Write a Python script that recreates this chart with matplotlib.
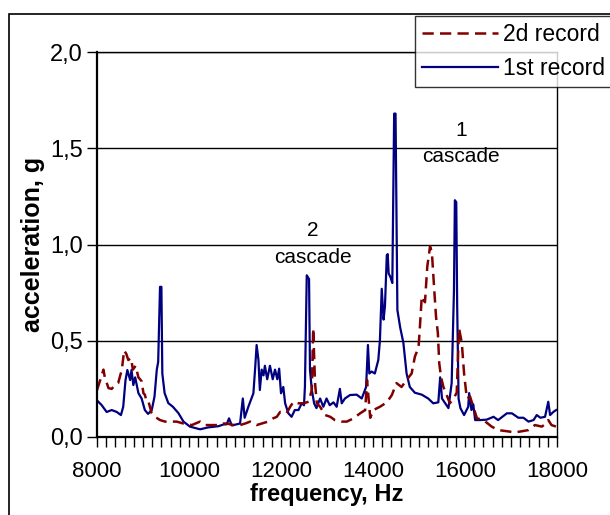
import matplotlib
matplotlib.use("Agg")
import matplotlib.pyplot as plt
import numpy as np
from matplotlib.patches import Rectangle
from matplotlib.ticker import MultipleLocator, FuncFormatter

plt.rcParams['font.family'] = ['Liberation Sans', 'DejaVu Sans']

# 1st record (solid, navy)
f1 = [8000, 8100, 8210, 8320, 8430, 8520, 8570, 8620, 8660, 8720, 8750, 8790, 8830,
      8900, 8970, 9040, 9110, 9190, 9250, 9300, 9330, 9370, 9400, 9420, 9470, 9550,
      9650, 9770, 9880, 10020, 10240, 10420, 10640, 10750, 10820, 10870, 10930,
      11110, 11170, 11210, 11290, 11400, 11440, 11470, 11510, 11540, 11580, 11620,
      11650, 11700, 11760, 11820, 11870, 11920, 11960, 12000, 12050, 12090, 12160,
      12230, 12300, 12380, 12450, 12500, 12520, 12560, 12610, 12630, 12670, 12720,
      12770, 12850, 12920, 12990, 13060, 13140, 13210, 13280, 13320, 13390, 13500,
      13645, 13755, 13850, 13890, 13920, 13970, 14040, 14115, 14150, 14190, 14230,
      14260, 14300, 14320, 14340, 14380, 14420, 14460, 14490, 14530, 14590, 14660,
      14730, 14800, 14910, 15060, 15200, 15310, 15420, 15460, 15500, 15570, 15640,
      15710, 15760, 15780, 15810, 15830, 15860, 15900, 15980, 16070, 16090, 16140,
      16180, 16220, 16330, 16470, 16620, 16720, 16910, 17020, 17160, 17270, 17380,
      17490, 17560, 17640, 17740, 17810, 17850, 17920, 17980]
a1 = [0.19, 0.166, 0.13, 0.14, 0.13, 0.114, 0.157, 0.296, 0.348, 0.296, 0.348, 0.27, 0.31,
      0.228, 0.2, 0.14, 0.12, 0.14, 0.21, 0.35, 0.39, 0.78, 0.78, 0.33, 0.228, 0.176,
      0.157, 0.124, 0.08, 0.054, 0.04, 0.05, 0.056, 0.065, 0.066, 0.097, 0.06,
      0.07, 0.2, 0.1, 0.157, 0.227, 0.365, 0.478, 0.4, 0.244, 0.35, 0.32,
      0.37, 0.30, 0.37, 0.30, 0.35, 0.30, 0.355, 0.227, 0.26, 0.175, 0.123,
      0.105, 0.14, 0.14, 0.175, 0.165, 0.26, 0.84, 0.82, 0.348, 0.245, 0.175,
      0.15, 0.2, 0.157, 0.2, 0.165, 0.18, 0.157, 0.25, 0.175, 0.2, 0.218,
      0.22, 0.2, 0.26, 0.478, 0.33, 0.34, 0.33, 0.4, 0.5, 0.77, 0.61,
      0.68, 0.945, 0.95, 0.85, 0.83, 0.8, 1.68, 1.68, 0.66, 0.57, 0.49,
      0.33, 0.26, 0.23, 0.22, 0.2, 0.175, 0.18, 0.31, 0.2, 0.175, 0.15,
      0.28, 0.76, 1.23, 1.22, 0.68, 0.2, 0.15, 0.114, 0.157, 0.228, 0.14,
      0.17, 0.088, 0.088, 0.09, 0.105, 0.088, 0.123, 0.123, 0.1, 0.1, 0.08,
      0.088, 0.114, 0.1, 0.105, 0.183, 0.114, 0.13, 0.14]

# 2d record (dashed, dark red)
f2 = [8000, 8070, 8140, 8170, 8250, 8320, 8390, 8460, 8540, 8590, 8640, 8680, 8740,
      8780, 8840, 8900, 8970, 9010, 9040, 9080, 9120, 9190, 9260, 9370, 9480, 9590,
      9730, 9880, 10060, 10240, 10350, 10490, 10640, 10750, 10820, 10970, 11110,
      11220, 11330, 11470, 11580, 11720, 11830, 11910, 11980, 12120, 12200, 12270,
      12380, 12490, 12600, 12670, 12700, 12740, 12780, 12850, 12960, 13070, 13170,
      13320, 13430, 13570, 13720, 13830, 13870, 13940, 14010, 14150, 14300, 14410,
      14510, 14620, 14730, 14840, 14910, 14990, 15020, 15060, 15130, 15180, 15240,
      15280, 15330, 15370, 15410, 15440, 15480, 15530, 15600, 15670, 15750, 15820,
      15870, 15930, 15980, 16040, 16110, 16180, 16260, 16400, 16580, 16720, 16910,
      17090, 17240, 17380, 17520, 17670, 17760, 17810, 17880, 17980]
a2 = [0.244, 0.296, 0.35, 0.31, 0.254, 0.25, 0.27, 0.28, 0.35, 0.45, 0.43, 0.4, 0.41,
      0.35, 0.37, 0.31, 0.29, 0.227, 0.22, 0.183, 0.183, 0.123, 0.105, 0.088, 0.08, 0.08,
      0.08, 0.07, 0.062, 0.08, 0.062, 0.062, 0.062, 0.07, 0.07, 0.062, 0.062,
      0.07, 0.08, 0.062, 0.07, 0.08, 0.097, 0.105, 0.13, 0.123, 0.157, 0.183,
      0.175, 0.175, 0.183, 0.245, 0.565, 0.28, 0.175, 0.157, 0.114, 0.105, 0.088,
      0.08, 0.08, 0.096, 0.123, 0.14, 0.296, 0.1, 0.14, 0.157, 0.18, 0.218,
      0.28, 0.26, 0.296, 0.33, 0.417, 0.465, 0.573, 0.73, 0.7, 0.885, 0.99,
      0.96, 0.77, 0.625, 0.54, 0.383, 0.31, 0.26, 0.22, 0.175, 0.2, 0.23,
      0.565, 0.49, 0.33, 0.2, 0.21, 0.157, 0.097, 0.088, 0.054, 0.036, 0.03,
      0.024, 0.03, 0.036, 0.062, 0.054, 0.07, 0.088, 0.062, 0.054]

fig = plt.figure(figsize=(6.1, 5.15), dpi=100)
ax = fig.add_axes([97/610, 78/515, 460/610, 385/515])

# outer chart border
fig.patches.append(Rectangle((9/610, -0.1), 1.2, 1 - 14/515 + 0.1, transform=fig.transFigure,
                             fill=False, edgecolor='black', linewidth=1.2))

ax.set_axisbelow(True)
ax.grid(axis='y', color='black', linewidth=1)
l1, = ax.plot(f1, a1, color='#000080', linewidth=1.6)
l2, = ax.plot(f2, a2, color='#800000', linewidth=1.8, linestyle=(0, (4.5, 2.5)))

ax.set_xlim(8000, 18000)
ax.set_ylim(0, 2.0)
ax.xaxis.set_major_locator(MultipleLocator(2000))
ax.xaxis.set_minor_locator(MultipleLocator(200))
ax.yaxis.set_major_locator(MultipleLocator(0.5))
ax.yaxis.set_major_formatter(FuncFormatter(lambda v, p: ('%.1f' % v).replace('.', ',')))
ax.tick_params(axis='both', which='both', direction='out', length=7, width=1,
               labelsize=16, color='black')
ax.tick_params(axis='y', labelsize=17, pad=3)
ax.tick_params(axis='x', pad=10)
for s in ax.spines.values():
    s.set_linewidth(1)
ax.spines['left'].set_linewidth(1.6)
ax.spines['bottom'].set_linewidth(1.6)

ax.set_xlabel('frequency, Hz', fontsize=17, fontweight='bold', labelpad=1)
ax.set_ylabel('acceleration, g', fontsize=18, fontweight='bold', labelpad=4)

ax.text(15913, 1.59, '1', fontsize=15, ha='center', va='center')
ax.text(15913, 1.455, 'cascade', fontsize=15, ha='center', va='center')
ax.text(12696, 1.075, '2', fontsize=15, ha='center', va='center')
ax.text(12696, 0.935, 'cascade', fontsize=15, ha='center', va='center')

leg = fig.legend([l2, l1], ['2d record', '1st record'], loc='upper left',
                 bbox_to_anchor=(415/610, 1 - 16/515), fontsize=16.5, frameon=True,
                 fancybox=False, handlelength=3.3, handletextpad=0.26,
                 borderpad=0.3, labelspacing=0.5, borderaxespad=0)
leg.get_frame().set_edgecolor('black')
leg.get_frame().set_linewidth(1)

fig.savefig('out.png', dpi=100)
